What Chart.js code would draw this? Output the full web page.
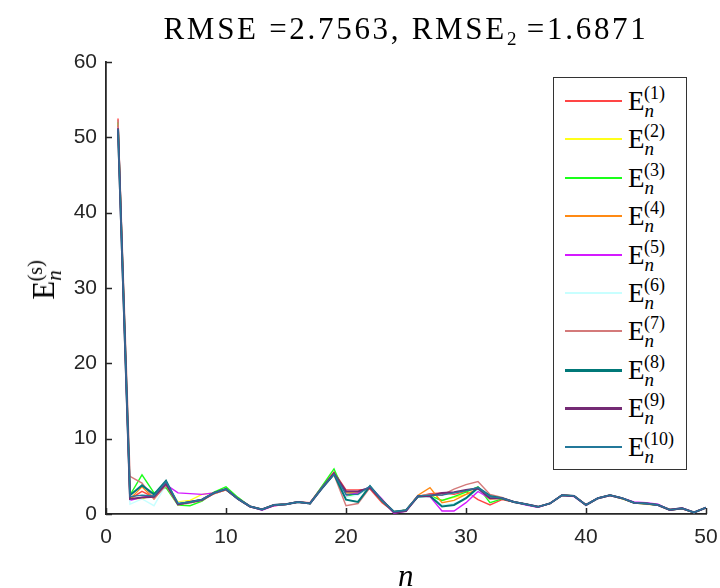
<!DOCTYPE html>
<html>
<head>
<meta charset="utf-8">
<script src="https://cdn.jsdelivr.net/npm/chart.js@4/dist/chart.umd.min.js"></script>
<style>
  html, body { margin: 0; padding: 0; background: #fff; }
  #wrap { position: relative; width: 720px; height: 588px; overflow: hidden; }
  canvas { position: absolute; left: 0; top: 0; }
  .serif { font-family: "Liberation Serif", "DejaVu Serif", serif; color: #000; }
  #title { position: absolute; left: 0; width: 812px; top: 11px; text-align: center; font-size: 31px; letter-spacing: 2.7px; white-space: nowrap; }
  #title sub { font-size: 19px; vertical-align: -6px; letter-spacing: 0; }
  #ytitle { position: absolute; left: 44px; top: 280px; transform: translate(-50%, -50%) rotate(-90deg); font-size: 31px; white-space: nowrap; }
  #xtitle { position: absolute; left: 398px; top: 558px; font-size: 31px; font-style: italic; }
  #legend { position: absolute; left: 553px; top: 77px; width: 134px; height: 393px; border: 1.5px solid #333; background: #fff; box-sizing: border-box; }
  .entry { position: absolute; left: 0; height: 36px; width: 130px; }
  .swatch { position: absolute; left: 11px; top: 17px; width: 57px; height: 2px; }
  .lab { position: absolute; left: 74px; top: 0px; font-size: 27px; white-space: nowrap; line-height: 36px; }
  .lab .sb { font-style: italic; font-size: 19px; position: relative; top: 7px; }
  .lab .sp { font-size: 18px; position: relative; top: -11px; margin-left: -10px; }
</style>
</head>
<body>
<div id="wrap">
  <canvas id="c" width="720" height="588"></canvas>
  <div id="title" class="serif">RMSE =2.7563, RMSE<sub>2</sub> =1.6871</div>
  <div id="ytitle" class="serif">E<span style="font-style:italic;font-size:21px;position:relative;top:7px;">n</span><span style="font-size:20px;position:relative;top:-12px;margin-left:-11px;">(s)</span></div>
  <div id="xtitle" class="serif">n</div>
  <div id="legend" class="serif"></div>
</div>
<script>
const nValues = [1,2,3,4,5,6,7,8,9,10,11,12,13,14,15,16,17,18,19,20,21,22,23,24,25,26,27,28,29,30,31,32,33,34,35,36,37,38,39,40,41,42,43,44,45,46,47,48,49,50];

const E1 = [52.5, 2.0, 3.0, 2.2, 3.8, 1.4, 1.5, 1.8, 2.7, 3.2,
 2.1, 1.0, 0.6, 1.1, 1.3, 1.6, 1.5, 3.6, 5.6, 3.2,
 3.2, 3.3, 1.5, 0.3, 0.5, 2.3, 2.7, 2.8, 2.6, 3.0,
 1.9, 1.2, 1.9, 1.6, 1.3, 0.9, 1.4, 2.5, 2.4, 1.2,
 2.1, 2.5, 2.1, 1.5, 1.4, 1.2, 0.6, 0.7, 0.2, 0.85];
const E2 = [51.8, 2.1, 2.0, 2.6, 3.9, 1.6, 1.8, 2.6, 2.8, 3.3,
 2.0, 1.0, 0.6, 1.2, 1.3, 1.6, 1.4, 3.5, 5.3, 2.9,
 2.8, 3.5, 1.8, 0.3, 0.5, 2.4, 2.5, 1.8, 2.2, 2.6,
 3.2, 2.2, 2.1, 1.6, 1.3, 0.95, 1.4, 2.5, 2.4, 1.2,
 2.1, 2.5, 2.0, 1.5, 1.3, 1.2, 0.5, 0.75, 0.2, 0.85];
const E3 = [52.0, 2.5, 5.2, 2.8, 3.5, 1.2, 1.1, 1.7, 2.9, 3.6,
 2.2, 1.0, 0.6, 1.2, 1.3, 1.6, 1.4, 3.7, 6.0, 2.4,
 2.6, 3.5, 1.7, 0.3, 0.5, 2.4, 2.4, 1.8, 2.3, 2.9,
 3.6, 1.5, 2.0, 1.6, 1.3, 0.95, 1.4, 2.5, 2.4, 1.2,
 2.1, 2.5, 2.1, 1.5, 1.4, 1.2, 0.55, 0.75, 0.2, 0.85];
const E4 = [51.6, 2.0, 3.6, 2.0, 3.9, 1.3, 1.6, 1.9, 2.7, 3.2,
 2.0, 1.0, 0.6, 1.2, 1.3, 1.6, 1.4, 3.5, 5.4, 2.8,
 2.7, 3.5, 1.8, 0.3, 0.5, 2.5, 3.5, 1.5, 1.8, 2.6,
 3.3, 2.0, 2.1, 1.6, 1.3, 0.95, 1.4, 2.5, 2.4, 1.2,
 2.1, 2.5, 2.1, 1.5, 1.4, 1.2, 0.55, 0.75, 0.2, 0.85];
const E5 = [51.4, 1.8, 2.2, 2.5, 3.9, 2.8, 2.7, 2.6, 2.8, 3.3,
 2.0, 1.0, 0.5, 1.1, 1.3, 1.6, 1.4, 3.4, 5.3, 2.5,
 2.8, 3.6, 2.0, 0.1, 0.4, 2.4, 2.3, 0.4, 0.4, 1.5,
 3.0, 2.1, 2.1, 1.6, 1.2, 0.9, 1.4, 2.5, 2.3, 1.2,
 2.1, 2.5, 2.1, 1.6, 1.5, 1.3, 0.5, 0.8, 0.2, 0.85];
const E6 = [51.3, 1.3, 2.0, 1.1, 3.9, 1.5, 1.6, 1.9, 2.8, 3.3,
 2.0, 1.0, 0.6, 1.2, 1.3, 1.6, 1.4, 3.5, 5.3, 2.2,
 2.5, 3.6, 1.8, 0.3, 0.5, 2.4, 2.5, 1.2, 1.4, 2.0,
 3.2, 2.2, 2.1, 1.6, 1.3, 0.95, 1.4, 2.5, 2.4, 1.2,
 2.1, 2.5, 2.1, 1.5, 1.4, 1.2, 0.55, 0.75, 0.2, 0.85];
const E7 = [52.3, 5.0, 4.1, 2.0, 3.8, 1.2, 1.5, 1.8, 2.7, 3.2,
 2.0, 1.0, 0.6, 1.2, 1.3, 1.6, 1.4, 3.5, 5.2, 1.1,
 1.4, 3.5, 1.9, 0.3, 0.5, 2.4, 2.6, 2.5, 3.3, 3.9,
 4.3, 2.6, 2.2, 1.6, 1.3, 0.95, 1.4, 2.5, 2.4, 1.2,
 2.1, 2.5, 2.1, 1.5, 1.4, 1.2, 0.55, 0.75, 0.2, 0.85];
const E8 = [51.0, 2.5, 3.8, 2.6, 4.4, 1.3, 1.6, 1.9, 2.8, 3.3,
 2.0, 1.0, 0.6, 1.2, 1.3, 1.6, 1.4, 3.4, 5.3, 1.9,
 1.6, 3.7, 1.8, 0.3, 0.5, 2.3, 2.4, 1.0, 1.2, 2.1,
 3.5, 2.4, 2.1, 1.6, 1.3, 0.95, 1.4, 2.5, 2.4, 1.2,
 2.1, 2.5, 2.1, 1.5, 1.4, 1.2, 0.55, 0.75, 0.2, 0.85];
const E9 = [51.2, 2.0, 2.2, 2.3, 4.0, 1.3, 1.6, 1.9, 2.8, 3.3,
 2.0, 1.0, 0.6, 1.2, 1.3, 1.6, 1.4, 3.5, 5.4, 3.0,
 3.0, 3.5, 1.8, 0.2, 0.4, 2.4, 2.4, 2.8, 2.9, 3.2,
 3.4, 2.1, 2.1, 1.6, 1.3, 0.95, 1.4, 2.5, 2.4, 1.2,
 2.1, 2.5, 2.1, 1.5, 1.4, 1.2, 0.55, 0.75, 0.2, 0.85];
const E10 = [51.1, 2.3, 2.5, 2.4, 4.3, 1.4, 1.6, 1.9, 2.8, 3.3,
 2.0, 1.0, 0.6, 1.2, 1.3, 1.6, 1.4, 3.5, 5.3, 2.6,
 2.6, 3.7, 1.8, 0.3, 0.5, 2.4, 2.5, 2.5, 2.8, 3.1,
 3.5, 2.3, 2.1, 1.6, 1.3, 0.95, 1.4, 2.5, 2.4, 1.2,
 2.1, 2.5, 2.1, 1.5, 1.4, 1.2, 0.55, 0.75, 0.2, 0.85];

const seriesLabels = ["(1)","(2)","(3)","(4)","(5)","(6)","(7)","(8)","(9)","(10)"];
const xTicks = [0, 10, 20, 30, 40, 50];
const yTicks = [0, 10, 20, 30, 40, 50, 60];

const allSeries = [E1, E2, E3, E4, E5, E6, E7, E8, E9, E10];
const colors = ["#ff4545", "#ffff1a", "#1aff1a", "#ff8a14", "#d41aff", "#c8ffff", "#d47a7a", "#007878", "#742a74", "#23789a"];
const widths = [1.4, 1.4, 1.4, 1.4, 1.4, 1.4, 1.5, 2, 2, 1.4];

const datasets = allSeries.map((s, i) => ({
  label: "E" + seriesLabels[i],
  data: nValues.map((n, j) => ({ x: n, y: s[j] })),
  borderColor: colors[i],
  backgroundColor: colors[i],
  borderWidth: widths[i],
  pointRadius: 0,
  tension: 0,
  fill: false,
  order: 9 - i
}));

const inwardTicks = {
  id: "inwardTicks",
  afterDraw(chart) {
    const ctx = chart.ctx;
    const xs = chart.scales.x, ys = chart.scales.y;
    const a = chart.chartArea;
    ctx.save();
    ctx.strokeStyle = "#262626";
    ctx.lineWidth = 1.5;
    ctx.beginPath();
    xTicks.forEach(v => {
      const px = Math.round(xs.getPixelForValue(v)) + 0.5;
      ctx.moveTo(px, a.bottom);
      ctx.lineTo(px, a.bottom - 6);
    });
    yTicks.forEach(v => {
      const py = Math.round(ys.getPixelForValue(v)) + 0.5;
      ctx.moveTo(a.left, py);
      ctx.lineTo(a.left + 6, py);
    });
    ctx.stroke();
    ctx.restore();
  }
};

const tickFont = { family: "'Liberation Sans', Arial, sans-serif", size: 21 };

new Chart(document.getElementById("c"), {
  type: "line",
  data: { datasets },
  options: {
    responsive: false,
    animation: false,
    devicePixelRatio: 1,
    layout: { padding: { top: 62, right: 14, left: 0, bottom: 0 } },
    plugins: { legend: { display: false }, title: { display: false }, tooltip: { enabled: false } },
    scales: {
      x: {
        type: "linear",
        min: 0, max: 50,
        afterBuildTicks: s => { s.ticks = xTicks.map(v => ({ value: v })); },
        afterFit: s => { s.height = 74; s.paddingLeft = 0; s.paddingRight = 0; },
        grid: { display: false, drawTicks: false },
        border: { display: true, color: "#262626", width: 1.8 },
        ticks: { font: tickFont, color: "#262626", padding: 11, maxRotation: 0 }
      },
      y: {
        type: "linear",
        min: 0, max: 60,
        afterBuildTicks: s => { s.ticks = yTicks.map(v => ({ value: v })); },
        afterFit: s => { s.width = 106; s.paddingTop = 0; s.paddingBottom = 0; },
        grid: { display: false, drawTicks: false },
        border: { display: true, color: "#262626", width: 1.8 },
        ticks: { font: tickFont, color: "#262626", padding: 9 }
      }
    }
  },
  plugins: [inwardTicks]
});

// HTML legend with sub/superscripts
const leg = document.getElementById("legend");
seriesLabels.forEach((lab, i) => {
  const e = document.createElement("div");
  e.className = "entry";
  e.style.top = (5 + i * 38.4) + "px";
  const sw = document.createElement("div");
  sw.className = "swatch";
  sw.style.background = colors[i];
  sw.style.height = (widths[i] >= 2 ? 3 : 2) + "px";
  const t = document.createElement("div");
  t.className = "lab";
  t.innerHTML = '<span>E</span><span class="sb">n</span><span class="sp">' + lab + '</span>';
  e.appendChild(sw);
  e.appendChild(t);
  leg.appendChild(e);
});
</script>
</body>
</html>
